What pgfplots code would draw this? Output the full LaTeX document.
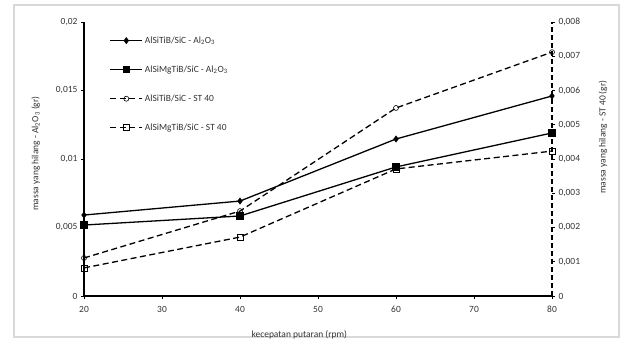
\documentclass[border=0pt]{standalone}
\usepackage{fontspec}
\setmainfont{Carlito}
\usepackage{pgfplots}
\pgfplotsset{compat=1.18}
\begin{document}
\begin{tikzpicture}[x=1bp,y=1bp]
\useasboundingbox (0,0) rectangle (622,347);
\draw[black!15, line width=1.2bp] (14,10) rectangle (619,342);
\pgfplotsset{
  common/.style={
    at={(84bp,51bp)}, anchor=south west,
    width=468bp, height=274bp, scale only axis,
    xmin=20, xmax=80,
    tick align=outside, major tick length=3bp,
    tick style={black, line width=0.8bp},
    axis line style={line width=1.2bp},
    ticklabel style={font=\fontsize{9.5}{10}\selectfont, text=black!80},
    label style={font=\fontsize{9.5}{10}\selectfont, text=black!80},
    /pgf/number format/.cd, use comma, fixed, precision=3,
    /pgf/number format/assume math mode=true,
  },
  line/.style={black, line width=1.3bp},
  dline/.style={black, line width=1.3bp, dash pattern=on 6bp off 3.5bp},
}
\begin{axis}[common,
  axis x line*=bottom, axis y line*=left,
  ymin=0, ymax=0.02,
  ytick={0,0.005,0.01,0.015,0.02},
  xtick={20,30,...,80},
  xticklabel style={yshift=-4bp},
  scaled y ticks=false,
  xlabel={kecepatan putaran (rpm)},
  ylabel={massa yang hilang - Al\textsubscript{2}O\textsubscript{3} (gr)},
  xlabel style={at={(axis description cs:0.46,-0.143)}, anchor=center},
  ylabel style={at={(axis description cs:-0.103,0.52)}, anchor=center},
]
\addplot[line, mark=diamond*, mark size=2.5bp, mark options={solid}] coordinates {(20,0.00591) (40,0.00693) (60,0.01146) (80,0.0146)};
\addplot[line, mark=square*, mark size=3bp, mark options={solid}] coordinates {(20,0.00518) (40,0.00584) (60,0.00942) (80,0.0119)};
\end{axis}
\begin{axis}[common,
  axis x line=none, axis y line*=right,
  y axis line style={line width=1.2bp, dash pattern=on 5bp off 3bp},
  ymin=0, ymax=0.008,
  ytick={0,0.001,...,0.008},
  scaled y ticks=false,
  ylabel={massa yang hilang - ST 40 (gr)},
  ylabel style={at={(axis description cs:1.109,0.58)}, anchor=center},
  legend style={at={(0.048,0.962)}, anchor=north west, draw=none, fill=none,
    font=\fontsize{9.5}{10}\selectfont, text=black!80, row sep=17bp},
  legend cell align=left,
  legend image code/.code={\draw[mark repeat=2,mark phase=2,#1] plot coordinates {(0bp,0bp) (16bp,0bp) (32bp,0bp)};},
]
\addlegendimage{line, mark=diamond*, mark size=2.5bp, mark options={solid}}
\addlegendentry{AlSiTiB/SiC - Al\textsubscript{2}O\textsubscript{3}}
\addlegendimage{line, mark=square*, mark size=3bp, mark options={solid}}
\addlegendentry{AlSiMgTiB/SiC - Al\textsubscript{2}O\textsubscript{3}}
\addplot[dline, mark=o, mark size=2.5bp, mark options={solid, fill=white, line width=0.6bp}] coordinates {(20,0.00111) (40,0.00248) (60,0.00549) (80,0.00712)};
\addlegendentry{AlSiTiB/SiC - ST 40}
\addplot[dline, mark=square, mark size=3bp, mark options={solid, fill=white, line width=0.8bp}] coordinates {(20,0.00082) (40,0.00172) (60,0.00371) (80,0.00423)};
\addlegendentry{AlSiMgTiB/SiC - ST 40}
\end{axis}
\end{tikzpicture}
\end{document}
